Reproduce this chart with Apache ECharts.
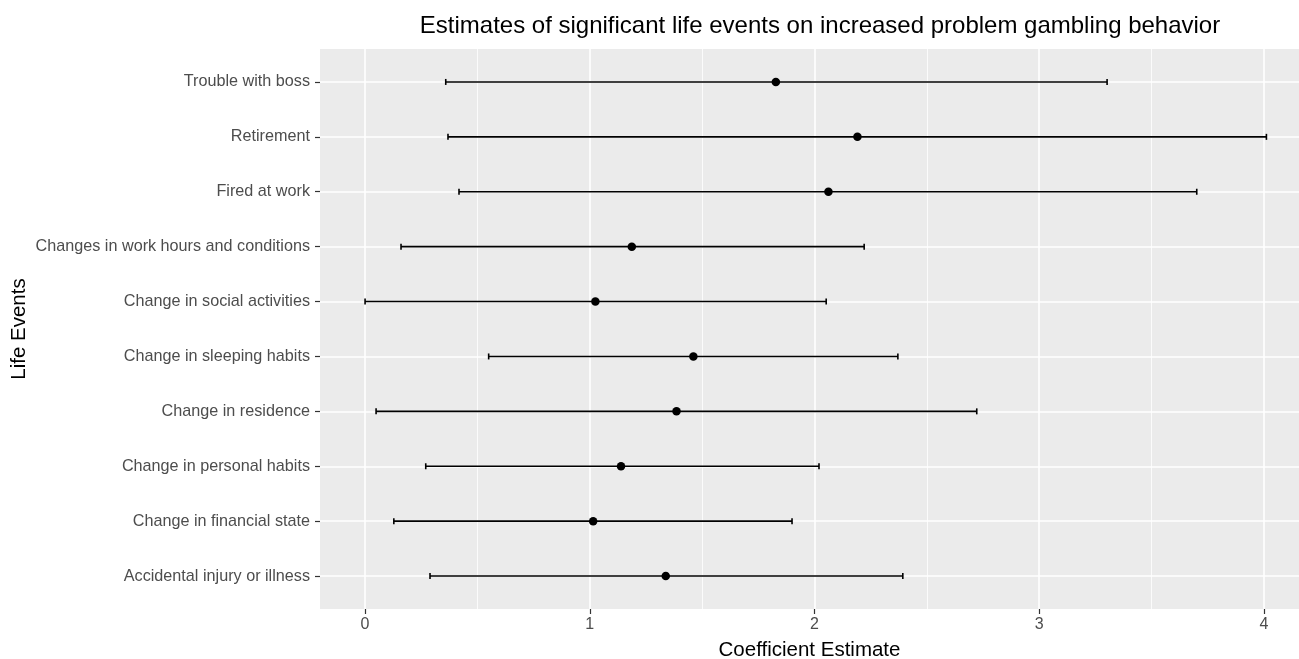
<!DOCTYPE html>
<html>
<head>
<meta charset="utf-8">
<script src="https://cdn.jsdelivr.net/npm/echarts@6/dist/echarts.min.js"></script>
<style>
html,body{margin:0;padding:0;background:#fff;}
#chart{width:1299px;height:659px;}
</style>
</head>
<body>
<div id="chart"></div>
<script>
// Categories, bottom to top
const categories = [
  "Accidental injury or illness",
  "Change in financial state",
  "Change in personal habits",
  "Change in residence",
  "Change in sleeping habits",
  "Change in social activities",
  "Changes in work hours and conditions",
  "Fired at work",
  "Retirement",
  "Trouble with boss"
];
const estimates = [1.338, 1.015, 1.139, 1.386, 1.461, 1.025, 1.187, 2.062, 2.191, 1.828];
const lowerCI   = [0.289, 0.128, 0.270, 0.049, 0.550, 0.000, 0.160, 0.418, 0.369, 0.359];
const upperCI   = [2.393, 1.900, 2.020, 2.722, 2.371, 2.052, 2.221, 3.701, 4.011, 3.302];
const xTicks = [0, 1, 2, 3, 4];
const xMinorTicks = [0.5, 1.5, 2.5, 3.5];

const lo = Math.min(...lowerCI), hi = Math.max(...upperCI);
const pad = 0.05 * (hi - lo);
const xMin = lo - pad;
const xMax = 4.156; // the panel is cut off by the right edge of the picture
const yIdx = categories.map((c, i) => i);

const chart = echarts.init(document.getElementById('chart'), null, {renderer: 'canvas'});
const font = '"Liberation Sans", Arial, sans-serif';

const option = {
  animation: false,
  backgroundColor: '#ffffff',
  title: {
    text: 'Estimates of significant life events on increased problem gambling behavior',
    left: 815, top: 9, textAlign: 'center',
    textStyle: {fontFamily: font, fontSize: 24, fontWeight: 'normal', color: '#000000'}
  },
  grid: {
    left: 320, right: 0, top: 49, bottom: 50,
    outerBoundsMode: 'none', containLabel: false,
    show: true, backgroundColor: '#EBEBEB', borderWidth: 0
  },
  xAxis: {
    type: 'value', min: xMin, max: xMax,
    name: 'Coefficient Estimate', nameLocation: 'middle', nameGap: 31, nameMoveOverlap: false,
    nameTextStyle: {fontFamily: font, fontSize: 20.5, color: '#000000'},
    axisLine: {show: false, onZero: false},
    axisTick: {show: true, length: 5, customValues: xTicks, lineStyle: {color: '#333333', width: 1.2}},
    axisLabel: {customValues: xTicks, margin: 8, fontFamily: font, fontSize: 16, color: '#4D4D4D',
      formatter: v => String(v)},
    splitLine: {show: false}
  },
  yAxis: {
    type: 'value', min: -0.6, max: categories.length - 1 + 0.6,
    name: 'Life Events', nameLocation: 'middle', nameGap: 290, nameRotate: 90, nameMoveOverlap: false,
    nameTextStyle: {fontFamily: font, fontSize: 20.5, color: '#000000'},
    axisLine: {show: false, onZero: false},
    axisTick: {show: true, length: 5, customValues: yIdx, lineStyle: {color: '#333333', width: 1.2}},
    axisLabel: {customValues: yIdx, margin: 10, fontFamily: font, fontSize: 16.2, color: '#4D4D4D',
      formatter: v => categories[Math.round(v)] || ''},
    splitLine: {show: false}
  },
  series: [
    {
      type: 'line', data: [], z: 1, silent: true,
      markLine: {
        z: 1, silent: true, symbol: 'none', label: {show: false}, animation: false,
        data: [
          ...xMinorTicks.map(v => ({xAxis: v, lineStyle: {color: '#ffffff', width: 0.8, type: 'solid'}})),
          ...xTicks.map(v => ({xAxis: v, lineStyle: {color: '#ffffff', width: 1.6, type: 'solid'}})),
          ...yIdx.map(v => ({yAxis: v, lineStyle: {color: '#ffffff', width: 1.6, type: 'solid'}}))
        ]
      }
    },
    {
      type: 'custom', z: 6,
      data: categories.map((c, i) => [lowerCI[i], upperCI[i], i]),
      encode: {x: [0, 1], y: 2},
      renderItem: function (params, api) {
        const y = api.value(2);
        const p1 = api.coord([api.value(0), y]);
        const p2 = api.coord([api.value(1), y]);
        const h = 3;
        const st = () => ({stroke: '#000000', lineWidth: 1.6, fill: null});
        return {
          type: 'group',
          children: [
            {type: 'line', shape: {x1: p1[0], y1: p1[1], x2: p2[0], y2: p2[1]}, style: st()},
            {type: 'line', shape: {x1: p1[0], y1: p1[1] - h, x2: p1[0], y2: p1[1] + h}, style: st()},
            {type: 'line', shape: {x1: p2[0], y1: p2[1] - h, x2: p2[0], y2: p2[1] + h}, style: st()}
          ]
        };
      }
    },
    {
      type: 'scatter', z: 7,
      data: categories.map((c, i) => [estimates[i], i]),
      symbol: 'circle', symbolSize: 8.5,
      itemStyle: {color: '#000000', opacity: 1}
    }
  ]
};
chart.setOption(option);
</script>
</body>
</html>
